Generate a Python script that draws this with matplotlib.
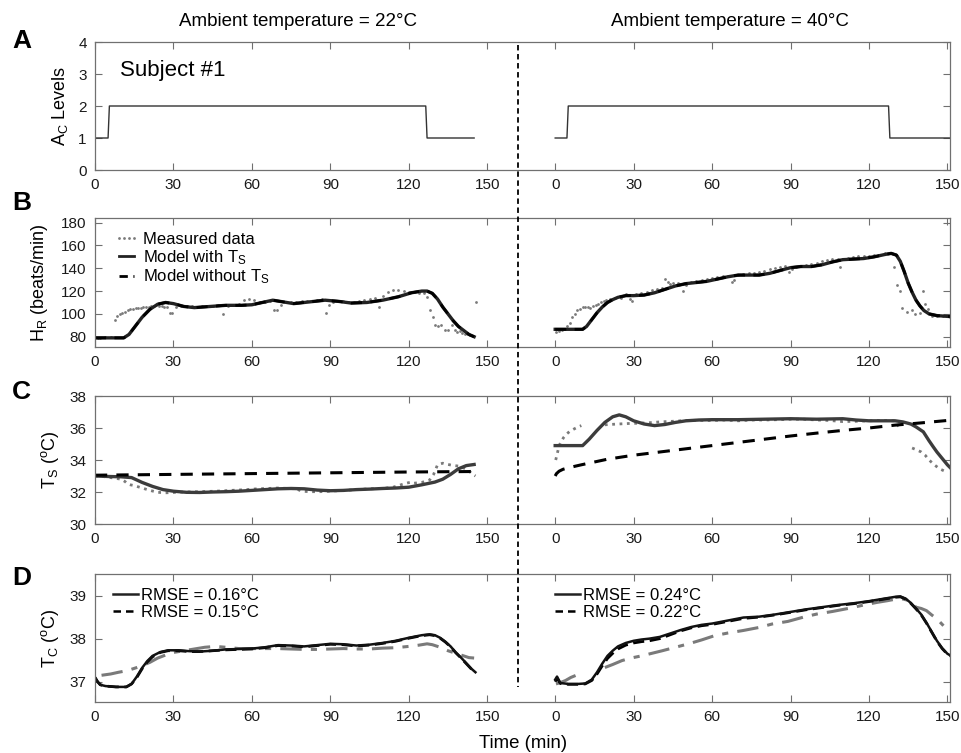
import numpy as np
import matplotlib.pyplot as plt
from matplotlib.lines import Line2D

plt.rcParams['font.family'] = ['Liberation Sans', 'DejaVu Sans']
plt.rcParams['mathtext.default'] = 'regular'

OFF = 176  # where the 40 C run starts on the shared time axis
nan = np.nan

# ---- A: activity level
ac_t_22 = [0, 5, 5.5, 126.5, 127, 145]
ac_v_22 = [1, 1, 2, 2, 1, 1]
ac_t_40 = [0, 4.5, 5, 127.5, 128, 152]
ac_v_40 = [1, 1, 2, 2, 1, 1]

# ---- B: heart rate
hr_mod_t_22 = [0, 11, 13, 15, 18, 21, 24, 27, 30, 34, 38, 44, 50, 56, 60, 64, 68, 72, 76, 82, 88, 93, 98,
               104, 110, 116, 121, 125, 127, 129, 131, 133, 135, 137, 139, 141, 143, 145]
hr_mod_v_22 = [79, 79, 82, 88, 97, 104, 108.5, 110, 109, 106.5, 105.5, 106.5, 107.5, 107.5, 108, 110, 112, 110.5,
               109, 110.5, 112, 111, 109.5, 110, 112, 115, 118.5, 120, 120, 118, 113, 106, 100, 94, 89, 85.5, 82, 80]
hr_meas_t_22 = [0, 1, 2, 4, 6, 7.5, 8.5, 9.5, 10.5, 11.5, 12.5, 13.5, 14.5, 15.5, 16.5, 17.5, 18.5, 19.5, 20.5,
                21.5, 22.5, 23.5, 24.5, 25.5, 26.5, 27.5, 28.5, 29.5, 31, 33, 35, 37, 39, 41, 43, 45, 47, 49, 51,
                53, 55, 57, 59, 61, 63, 65, 67, 68.5, 69.5, 71, 73, 75, 77, 79, 81, 83, 85, 87, 88.5, 89.5, 91, 93,
                95, 97, 99, 101, 103, 105, 107, 108.5, 110, 112, 114, 116, 118, 120, 122, 124, 126, 127, 128.2,
                129.4, 130, 131, 132.5, 134, 135, 136.7, 137.5, 138.5, 139.6, 140.5, 141.5, 142.5, 143.5, 144.5, 145.7]
hr_meas_v_22 = [79.5, 79, 79, 79.5, 80, 95, 98, 100, 101, 102, 103, 104, 104, 105, 105, 105, 106, 106, 106,
                107, 107, 108, 107, 107, 106, 106, 101, 100.5, 106, 107, 107, 106.5, 106, 106.5, 107, 107, 107.5, 100,
                107, 108, 109, 112, 113, 112, 110, 110, 111, 103.5, 103.5, 108, 110, 110, 110, 111, 111, 111, 112,
                113, 101, 108, 110, 111, 111, 110, 110, 111, 112, 113, 114, 106, 116, 119, 120.5, 121, 120, 119, 119,
                118.5, 118.5, 115, 103, 97, 90, 89.5, 90, 86, 86, 90, 86, 84, 85, 83, 82, 82, 81.5, 81, 110]

hr_mod_t_40 = [0, 10.5, 12, 14, 16, 18, 20, 22, 24, 27, 30, 34, 38, 42, 46, 50, 54, 58, 62, 66, 70, 74, 78, 82,
               86, 90, 94, 98, 102, 106, 110, 114, 118, 122, 126, 128.5, 130.5, 132, 133.5, 135, 136.5, 138, 139.5,
               141, 143, 146, 149, 152]
hr_mod_v_40 = [86.5, 86.5, 89, 95, 101, 106, 110, 112.5, 114.5, 116, 116, 116.5, 118.5, 121.5, 124.5, 126.5,
               127.5, 128.5, 130.5, 132.5, 134, 134, 134, 135.5, 138, 140.5, 141.5, 141.5, 143, 145.5, 147.5, 148,
               148.5, 150, 152, 153, 151.5, 146, 137, 127, 119, 112, 107, 103, 100, 98.5, 98, 97.5]
hr_meas_t_40 = [0.5, 1.5, 2.5, 3.5, 4.5, 5.5, 6.5, 7.5, 8.5, 9.5, 10.5, 11.5, 12.5, 13.5, 14.5, 15.5, 16.5, 17.5,
                18.5, 19.5, 21, 23, 25, 27, 28.5, 29.5, 31, 33, 35, 37, 39, 41, 42, 43, 44, 45, 47, 49, 50, 52, 54,
                56, 58, 60, 62, 64, 66, 67.5, 68.5, 70, 72, 74, 76, 78, 80, 82, 84, 86, 88, 89.5, 90.5, 92, 94, 96,
                98, 100, 102, 104, 106, 108, 109, 110, 112, 114, 116, 118, 120, 122, 124, 126, 128, 129.6, 130.6,
                132, 132.7, 134.6, 136.4, 137.7, 139.6, 140.5, 141.4, 142.5, 144, 146, 148.5, 151]
hr_meas_v_40 = [84, 85, 86, 87, 89, 92, 97, 100, 103, 104.5, 106, 106, 106, 105.5, 107, 108, 109, 110, 111, 112,
                113, 113.5, 114, 117, 113, 111, 117, 118, 119.5, 121, 122, 123, 131, 128, 126, 127, 127.5, 120, 125,
                128, 129, 130, 131, 131.5, 132, 133, 133.5, 128, 129.5, 134, 135, 135.5, 136, 137, 138, 139, 140,
                141, 142, 136.5, 139, 141, 142, 143, 144, 145, 146, 147, 148, 148, 141, 148.5, 149, 150, 150.5, 151,
                151, 151.5, 152, 153, 153.5, 141, 125, 120, 105.5, 101.5, 103, 100, 100.5, 120, 109, 104, 98, 98.5,
                98, 97.5]

# ---- C: skin temperature
ts_mod_t_22 = [0, 5, 10, 14, 18, 22, 26, 30, 35, 40, 45, 50, 55, 60, 65, 70, 75, 80, 85, 90, 95, 100, 105, 110,
               115, 120, 125, 130, 133, 136, 139, 142, 145]
ts_mod_v_22 = [33.0, 32.97, 32.95, 32.9, 32.6, 32.35, 32.15, 32.05, 31.98, 31.97, 32.0, 32.02, 32.05, 32.1,
               32.15, 32.2, 32.22, 32.2, 32.12, 32.08, 32.1, 32.15, 32.18, 32.22, 32.25, 32.3, 32.45, 32.62, 32.8,
               33.1, 33.45, 33.65, 33.72]
ts_nots_t_22 = [0, 30, 60, 90, 120, 145]
ts_nots_v_22 = [33.05, 33.1, 33.15, 33.2, 33.25, 33.28]
ts_meas_t_22 = [0, 3, 6, 8, 10, 11.5, 12.5, 13.5, 15, 18, 21, 24, 27, 30, 34, 40, 46, 52, 58, 62, 66, 70, 74,
                77, 79, 82, 86, 90, 95, 100, 105, 110, 114, 117, 119, 121, 122, 125, 128, 129.5, 131, 133, 135, 137,
                139, 141, 143, 144, 145.5]
ts_meas_v_22 = [33.0, 32.97, 32.9, 32.85, 32.8, 32.65, 32.5, 32.45, 32.4, 32.25, 32.1, 31.98, 31.95, 31.97,
                32.0, 32.02, 32.05, 32.1, 32.15, 32.2, 32.22, 32.25, 32.22, 32.2, 32.05, 32.02, 32.02, 32.05, 32.1,
                32.15, 32.2, 32.22, 32.3, 32.45, 32.55, 32.62, 32.55, 32.6, 32.75, 33.1, 33.7, 33.8, 33.72, 33.66,
                33.62, 33.5, 33.35, 33.15, 33.0]

ts_mod_t_40 = [0, 10.5, 13, 16, 19, 22, 24.5, 27, 30, 34, 38, 42, 46, 50, 55, 60, 70, 80, 90, 100, 110, 115, 120,
               125, 130, 133, 136, 138, 140.8, 143, 144.6, 146, 148, 150, 152]
ts_mod_v_40 = [34.9, 34.9, 35.3, 35.85, 36.35, 36.7, 36.82, 36.7, 36.45, 36.25, 36.15, 36.22, 36.35, 36.45, 36.5,
               36.52, 36.52, 36.55, 36.58, 36.55, 36.58, 36.5, 36.45, 36.45, 36.45, 36.38, 36.25, 36.07, 35.76,
               35.2, 34.82, 34.5, 34.1, 33.7, 33.37]
ts_nots_t_40 = [0, 0.5, 1.5, 3, 6, 10, 20, 30, 40, 50, 60, 70, 80, 90, 100, 110, 120, 130, 140, 152]
ts_nots_v_40 = [33.0, 33.15, 33.3, 33.42, 33.55, 33.7, 34.05, 34.3, 34.5, 34.7, 34.9, 35.1, 35.3, 35.5, 35.68,
                35.85, 36.0, 36.18, 36.32, 36.5]
ts_meas_t_40 = [0.2, 0.8, 1.5, 2.3, 3.2, 4.2, 5.5, 7, 8.5, 10, 14, 19, 21, 24, 28, 32, 36, 40, 45, 50, 55, 60, 65,
                70, 75, 80, 85, 90, 95, 100, 105, 110, 115, 120, 125, 130, 132, 134, 136.5, 138, 140, 141.5, 143,
                145, 147, 149]
ts_meas_v_40 = [34.0, 34.4, 34.9, 35.15, 35.4, 35.6, 35.78, 35.92, 36.05, 36.15, nan, 36.2, 36.22, 36.25, 36.28,
                36.3, 36.33, 36.38, 36.42, 36.47, 36.48, 36.47, 36.5, 36.45, 36.5, 36.5, 36.52, 36.55, 36.55, 36.5,
                36.47, 36.4, 36.42, 36.45, 36.47, 36.45, 35.9, nan, 34.75, 34.65, 34.5, 34.3, 34.0, 33.7, 33.45, 33.3]

# ---- D: core temperature
tc_mod_t_22 = [0, 1, 2, 4, 8, 12, 14, 16, 18, 20, 22, 25, 28, 32, 36, 40, 45, 50, 55, 60, 65, 70, 75, 80, 85,
               90, 95, 100, 105, 110, 115, 120, 125, 128, 130, 132, 134, 136, 138, 140, 142, 144, 145.5]
tc_mod_v_22 = [37.1, 37.0, 36.93, 36.9, 36.88, 36.88, 36.95, 37.12, 37.32, 37.48, 37.6, 37.69, 37.73, 37.73,
               37.71, 37.7, 37.72, 37.75, 37.76, 37.77, 37.8, 37.85, 37.84, 37.82, 37.85, 37.88, 37.87, 37.84,
               37.86, 37.9, 37.95, 38.02, 38.08, 38.1, 38.08, 38.02, 37.93, 37.82, 37.68, 37.56, 37.43, 37.3, 37.22]
tc_nots_v_22 = [37.1, 37.0, 36.93, 36.9, 36.88, 36.88, 36.95, 37.1, 37.3, 37.46, 37.58, 37.68, 37.72, 37.72,
                37.7, 37.7, 37.72, 37.74, 37.75, 37.76, 37.79, 37.84, 37.83, 37.81, 37.84, 37.87, 37.86, 37.83,
                37.85, 37.89, 37.94, 38.01, 38.07, 38.09, 38.07, 38.01, 37.92, 37.81, 37.67, 37.55, 37.42, 37.29, 37.21]
tc_meas_t_22 = [2.5, 6, 9, 12.5, 17, 21, 24, 27, 30, 34, 38, 42, 46, 50, 55, 60, 65, 70, 75, 80, 85, 90, 95,
                100, 105, 110, 115, 120, 124, 127, 129, 132, 135, 138, 141, 143, 145]
tc_meas_v_22 = [37.15, 37.18, 37.22, 37.26, 37.35, 37.45, 37.55, 37.62, 37.68, 37.72, 37.76, 37.8, 37.82, 37.8,
                37.77, 37.77, 37.77, 37.77, 37.76, 37.75, 37.75, 37.76, 37.77, 37.76, 37.76, 37.78, 37.79, 37.82,
                37.85, 37.88, 37.86, 37.8, 37.72, 37.66, 37.6, 37.56, 37.55]

tc_mod_t_40 = [0, 0.7, 2, 5, 9, 11.5, 14, 16, 18, 20, 22, 24, 27, 30, 33, 36, 40, 44, 48, 52, 56, 60, 66, 72, 78,
               84, 90, 96, 102, 108, 114, 120, 126, 130, 132, 134, 136, 138, 140, 142, 144, 146, 148, 150, 152]
tc_mod_v_40 = [37.05, 37.12, 36.97, 36.95, 36.95, 36.96, 37.05, 37.22, 37.42, 37.6, 37.72, 37.82, 37.9, 37.95,
               37.98, 38.0, 38.04, 38.12, 38.2, 38.27, 38.32, 38.35, 38.42, 38.49, 38.51, 38.56, 38.62, 38.68, 38.73,
               38.78, 38.82, 38.87, 38.93, 38.97, 38.98, 38.93, 38.83, 38.7, 38.56, 38.37, 38.16, 37.95, 37.78,
               37.65, 37.58]
tc_nots_v_40 = [37.0, 37.08, 36.96, 36.94, 36.94, 36.95, 37.03, 37.18, 37.37, 37.54, 37.66, 37.76, 37.85, 37.9,
                37.93, 37.95, 38.0, 38.09, 38.18, 38.25, 38.3, 38.33, 38.4, 38.47, 38.5, 38.55, 38.61, 38.67, 38.72,
                38.77, 38.81, 38.86, 38.92, 38.96, 38.97, 38.92, 38.82, 38.69, 38.55, 38.36, 38.15, 37.94, 37.77,
                37.64, 37.57]
tc_meas_t_40 = [0.3, 2, 4, 6, 8, 10.5, 14, 19, 22, 25.5, 29, 33, 37, 41, 46, 51, 56, 61, 66, 72, 78, 83, 89, 95,
                100, 106, 112, 118, 123, 127, 130.5, 133, 135.5, 138, 140, 142, 144, 146, 148.5]
tc_meas_v_40 = [36.95, 36.98, 37.03, 37.1, 37.15, 37.18, nan, 37.33, 37.4, 37.49, 37.55, 37.6, 37.66, 37.72,
                37.8, 37.88, 37.97, 38.07, 38.13, 38.19, 38.26, 38.34, 38.4, 38.5, 38.57, 38.63, 38.7, 38.78, 38.84,
                38.88, 38.92, 38.92, 38.88, 38.73, 38.7, 38.65, 38.55, 38.46, 38.3]

rmse_22 = ['RMSE = 0.16°C', 'RMSE = 0.15°C']
rmse_40 = ['RMSE = 0.24°C', 'RMSE = 0.22°C']
xticks = [0, 30, 60, 90, 120, 150]


def sh(t):
    return np.asarray(t, dtype=float) + OFF


GRAY = '#7a7a7a'
SPINE = '#707070'

fig = plt.figure(figsize=(9.62, 7.53), dpi=100)
W = 962.0
H = 753.0
rows = [(42, 170), (218, 347), (396, 524), (574, 702)]
axs = []
for top, bot in rows:
    ax = fig.add_axes([95 / W, 1 - bot / H, 855 / W, (bot - top) / H])
    ax.set_xlim(0, 327)
    ax.set_xticks(xticks + [x + OFF for x in xticks])
    ax.set_xticklabels([str(x) for x in xticks] * 2)
    ax.tick_params(direction='in', length=5, width=0.8, color=SPINE, top=True, right=True,
                   labelsize=11, labelcolor='#1a1a1a', pad=6)
    for s in ax.spines.values():
        s.set_color(SPINE)
        s.set_linewidth(0.9)
    axs.append(ax)

# A
ax = axs[0]
ax.plot(ac_t_22, ac_v_22, color='#333333', lw=1)
ax.plot(sh(ac_t_40), ac_v_40, color='#333333', lw=1)
ax.set_ylim(0, 4)
ax.set_yticks([0, 1, 2, 3, 4])
ax.set_ylabel('A$_C$ Levels', fontsize=13, labelpad=6)
ax.text(9.6, 3.1, 'Subject #1', fontsize=16, va='center', ha='left')

# B
ax = axs[1]
for tm, vm, tt, vv in [(hr_meas_t_22, hr_meas_v_22, hr_mod_t_22, hr_mod_v_22),
                       (sh(hr_meas_t_40), hr_meas_v_40, sh(hr_mod_t_40), hr_mod_v_40)]:
    ax.plot(tm, vm, '.', color=GRAY, ms=4, mew=0)
    ax.plot(tt, vv, '-', color='#222222', lw=2.4)
    ax.plot(tt, vv, '--', color='black', lw=2.0, dashes=(4, 3))
ax.set_ylim(71, 184)
ax.set_yticks([80, 100, 120, 140, 160, 180])
ax.set_ylabel('H$_R$ (beats/min)', fontsize=13, labelpad=8)
hb = [Line2D([], [], ls='', marker='.', color=GRAY, ms=4, mew=0),
      Line2D([], [], ls='-', color='#222222', lw=2),
      Line2D([], [], ls='--', color='black', lw=2, dashes=(3, 2))]
ax.legend(hb, ['Measured data', 'Model with T$_S$', 'Model without T$_S$'], loc='upper left',
          bbox_to_anchor=(0.022, 0.89), frameon=False, fontsize=12, handlelength=1.5,
          handletextpad=0.25, labelspacing=0.05, borderpad=0, borderaxespad=0, numpoints=4)

# C
ax = axs[2]
for tm, vm, tt, vv, tn, vn in [(ts_meas_t_22, ts_meas_v_22, ts_mod_t_22, ts_mod_v_22, ts_nots_t_22, ts_nots_v_22),
                               (sh(ts_meas_t_40), ts_meas_v_40, sh(ts_mod_t_40), ts_mod_v_40,
                                sh(ts_nots_t_40), ts_nots_v_40)]:
    ax.plot(tm, vm, ':', color=GRAY, lw=2)
    ax.plot(tt, vv, '-', color='#3c3c3c', lw=2.4)
    ax.plot(tn, vn, '--', color='black', lw=2.2, dashes=(4, 3))
ax.set_ylim(30, 38)
ax.set_yticks([30, 32, 34, 36, 38])
ax.set_ylabel('T$_S$ ($^o$C)', fontsize=13, labelpad=6)

# D
ax = axs[3]
for tm, vm, tt, vv, vn in [(tc_meas_t_22, tc_meas_v_22, tc_mod_t_22, tc_mod_v_22, tc_nots_v_22),
                           (sh(tc_meas_t_40), tc_meas_v_40, sh(tc_mod_t_40), tc_mod_v_40, tc_nots_v_40)]:
    ax.plot(tm, vm, color=GRAY, lw=2.2, dashes=(7, 3, 2, 3))
    ax.plot(tt, vn, '--', color='black', lw=2.0, dashes=(4, 2))
    ax.plot(tt, vv, '-', color='#111111', lw=1.8)
ax.set_ylim(36.53, 39.5)
ax.set_yticks([37, 38, 39])
ax.set_ylabel('T$_C$ ($^o$C)', fontsize=13, labelpad=6)
hd = [Line2D([], [], ls='-', color='#222222', lw=1.8),
      Line2D([], [], ls='--', color='black', lw=1.8, dashes=(3, 2))]
leg = ax.legend(hd, rmse_22, loc='upper left', bbox_to_anchor=(0.021, 0.89), frameon=False, fontsize=12,
                handlelength=1.5, handletextpad=0.2, labelspacing=0.1, borderpad=0, borderaxespad=0)
ax.add_artist(leg)
ax.legend(hd, rmse_40, loc='upper left', bbox_to_anchor=(0.538, 0.89), frameon=False, fontsize=12,
          handlelength=1.5, handletextpad=0.2, labelspacing=0.1, borderpad=0, borderaxespad=0)

# labels outside the axes
for lab, y in [('A', 41), ('B', 203), ('C', 392), ('D', 578)]:
    fig.text(12 / W, 1 - y / H, lab, fontsize=19, fontweight='bold', va='center', ha='left')
fig.text(298 / W, 1 - 22 / H, 'Ambient temperature = 22°C', fontsize=13.5, ha='center', va='center')
fig.text(730 / W, 1 - 22 / H, 'Ambient temperature = 40°C', fontsize=13.5, ha='center', va='center')
fig.text(523 / W, 1 - 743 / H, 'Time (min)', fontsize=13.4, ha='center', va='center')
fig.add_artist(Line2D([518 / W, 518 / W], [1 - 45 / H, 1 - 687 / H], transform=fig.transFigure,
                      color='black', lw=1.3, dashes=(3, 2)))

fig.savefig('out.png', dpi=100)
